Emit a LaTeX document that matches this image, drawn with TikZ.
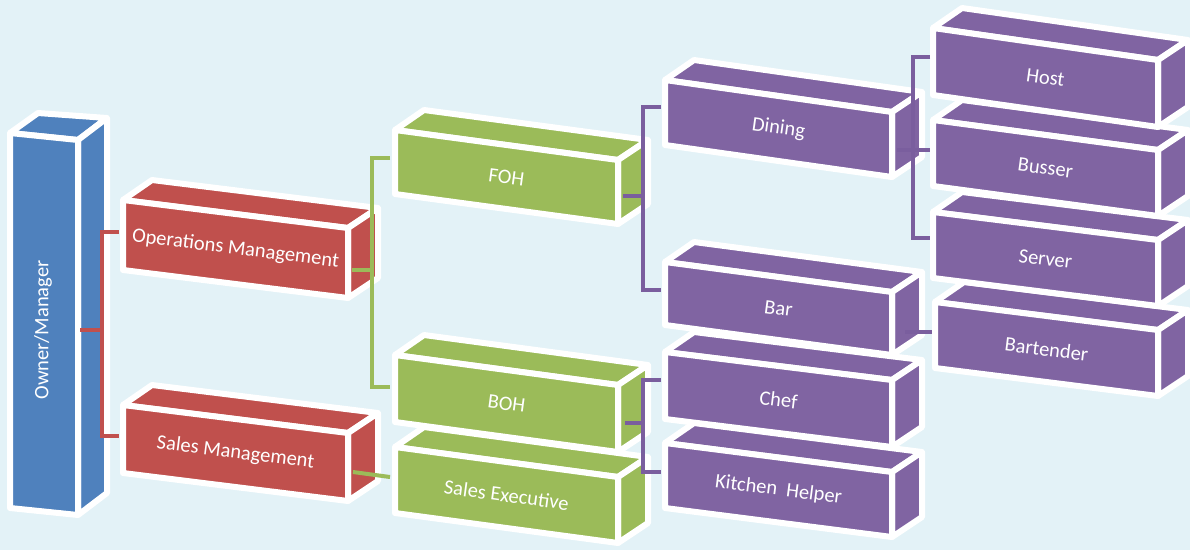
\documentclass[tikz,border=0pt]{standalone}
\usepackage{fontspec}
\setmainfont{Carlito}
\usetikzlibrary{calc}
\definecolor{bg}{RGB}{227,242,247}
\definecolor{cblue}{RGB}{79,129,189}
\definecolor{cred}{RGB}{192,80,77}
\definecolor{cgreen}{RGB}{155,187,89}
\definecolor{cpurple}{RGB}{128,100,162}
\definecolor{lpurple}{RGB}{122,94,158}
\newcommand\ldx{29}\newcommand\ldy{-20}
\newcommand\rdx{30}\newcommand\rdy{-20}
\newcommand\cuboid[7]{%
  \coordinate (#1-tl) at (#3,#4);
  \coordinate (#1-tr) at (#3+#5,#4+#6);
  \coordinate (#1-br) at (#3+#5,#4+#6+#7);
  \coordinate (#1-bl) at (#3,#4+#7);
  \filldraw[face,fill=#2] (#1-tl) -- (#1-tr) -- ($(#1-tr)+(\rdx,\rdy)$) -- ($(#1-tl)+(\ldx,\ldy)$) -- cycle;
  \filldraw[face,fill=#2] (#1-tr) -- ($(#1-tr)+(\rdx,\rdy)$) -- ($(#1-br)+(\rdx,\rdy)$) -- (#1-br) -- cycle;
  \filldraw[face,fill=#2] (#1-tl) -- (#1-tr) -- (#1-br) -- (#1-bl) -- cycle;
}
\begin{document}
\begin{tikzpicture}[x=1pt,y=-1pt,
  face/.style={draw=white,line width=6pt,line join=round},
  lbl/.style={text=white,font=\fontsize{20.5}{24}\selectfont,inner sep=0pt},
  conn/.style={line width=4pt}]
\useasboundingbox (0,0) rectangle (1190,550);
\fill[bg] (0,0) rectangle (1190,550);
% boxes
\begingroup
\renewcommand\ldx{28}\renewcommand\ldy{-20}\renewcommand\rdx{29}\renewcommand\rdy{-22}
\cuboid{b-own}{cblue}{10}{133}{68}{7}{375}
\endgroup
\cuboid{b-ops}{cred}{123}{200}{225}{28}{70}
\cuboid{b-sal}{cred}{123}{405}{225}{28}{68}
\cuboid{b-sex}{cgreen}{395}{447}{223}{30}{66}
\cuboid{b-boh}{cgreen}{395}{355}{223}{30}{67}
\cuboid{b-foh}{cgreen}{395}{130}{223}{30}{64}
\cuboid{b-kit}{cpurple}{665}{443}{227}{29}{65}
\cuboid{b-chef}{cpurple}{665}{352}{227}{28}{67}
\cuboid{b-bar}{cpurple}{665}{262}{227}{30}{63}
\cuboid{b-din}{cpurple}{665}{80}{227}{32}{65}
\cuboid{b-btd}{cpurple}{935}{302}{223}{28}{66}
\cuboid{b-ser}{cpurple}{933}{212}{225}{28}{66}
\cuboid{b-bus}{cpurple}{933}{120}{225}{30}{66}
\cuboid{b-host}{cpurple}{933}{28}{225}{32}{67}
% labels
\node[lbl,rotate=90] (own) at (43,330) {Owner/Manager};
\node[lbl,rotate=-7.1] (ops) at ($(b-ops-tl)!0.5!(b-ops-br)$) {Operations Management};
\node[lbl,rotate=-7.1] (sal) at ($(b-sal-tl)!0.5!(b-sal-br)$) {Sales Management};
\node[lbl,rotate=-7.7] (foh) at ($(b-foh-tl)!0.5!(b-foh-br)$) {FOH};
\node[lbl,rotate=-7.7] (boh) at ($(b-boh-tl)!0.5!(b-boh-br)$) {BOH};
\node[lbl,rotate=-7.7] (sex) at ($(b-sex-tl)!0.5!(b-sex-br)$) {Sales Executive};
\node[lbl,rotate=-8] (din) at ($(b-din-tl)!0.5!(b-din-br)$) {Dining};
\node[lbl,rotate=-7.5] (bar) at ($(b-bar-tl)!0.5!(b-bar-br)$) {Bar};
\node[lbl,rotate=-7] (chef) at ($(b-chef-tl)!0.5!(b-chef-br)$) {Chef};
\node[lbl,rotate=-7.3] (kit) at ($(b-kit-tl)!0.5!(b-kit-br)$) {Kitchen\ \ Helper};
\node[lbl,rotate=-8] (host) at ($(b-host-tl)!0.5!(b-host-br)$) {Host};
\node[lbl,rotate=-7.6] (bus) at ($(b-bus-tl)!0.5!(b-bus-br)$) {Busser};
\node[lbl,rotate=-7.1] (ser) at ($(b-ser-tl)!0.5!(b-ser-br)$) {Server};
\node[lbl,rotate=-7.1] (btd) at ($(b-btd-tl)!0.5!(b-btd-br)$) {Bartender};
% connector end points
\coordinate (ownout) at (80,330);
\coordinate (opsin) at (119,232);
\coordinate (salin) at (119,436);
\coordinate (rbus) at (102,436);
\coordinate (opsout) at (352,270);
\coordinate (fohin) at (390,158);
\coordinate (bohin) at (390,387);
\coordinate (gbus) at (372,387);
\coordinate (salout) at (353,472);
\coordinate (sexin) at (390,477);
\coordinate (fohout) at (623,196);
\coordinate (dinin) at (661,107);
\coordinate (barin) at (661,290);
\coordinate (pbusa) at (643,290);
\coordinate (bohout) at (625,423);
\coordinate (chefin) at (661,380);
\coordinate (kitin) at (661,472);
\coordinate (pbusb) at (643,472);
\coordinate (dinout) at (897,150);
\coordinate (hostin) at (930,57);
\coordinate (busin) at (930,150);
\coordinate (serin) at (930,238);
\coordinate (pbusc) at (913,238);
\coordinate (barout) at (905,332);
\coordinate (btdin) at (932,332);
% connectors
\draw[conn,cred] (opsin) -| (rbus) -- (salin);
\draw[conn,cred] (ownout) -- (ownout -| rbus);
\draw[conn,cgreen] (fohin) -| (gbus) -- (bohin);
\draw[conn,cgreen] (opsout) -- (opsout -| gbus);
\draw[conn,cgreen] (salout) -- (sexin);
\draw[conn,lpurple] (dinin) -| (pbusa) -- (barin);
\draw[conn,lpurple] (fohout) -- (fohout -| pbusa);
\draw[conn,lpurple] (chefin) -| (pbusb) -- (kitin);
\draw[conn,lpurple] (bohout) -- (bohout -| pbusb);
\draw[conn,lpurple] (hostin) -| (pbusc) -- (serin);
\draw[conn,lpurple] (dinout) -- (busin);
\draw[conn,lpurple] (barout) -- (btdin);
\end{tikzpicture}
\end{document}
